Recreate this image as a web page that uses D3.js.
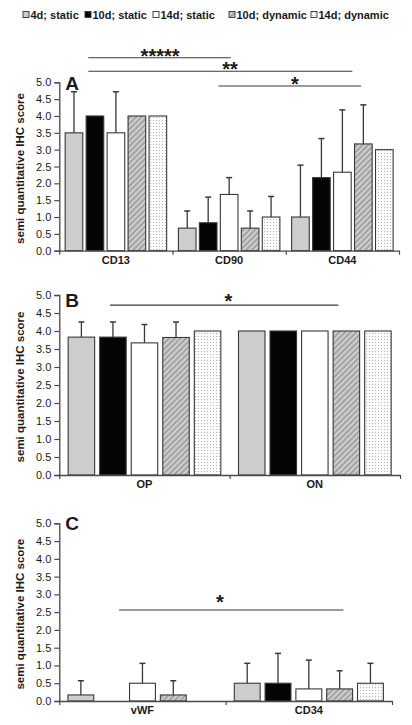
<!DOCTYPE html>
<html>
<head>
<meta charset="utf-8">
<script src="https://cdn.jsdelivr.net/npm/d3@7"></script>
<style>
  body { margin: 0; background: #fff; }
  svg text { font-family: "Liberation Sans", Arial, sans-serif; fill: #1a1a1a; }
</style>
</head>
<body>
<div id="canvas"></div>
<script>
"use strict";

/* Data: groups (legend) */
let groups = ["4d; static", "10d; static", "14d; static", "10d; dynamic", "14d; dynamic"];

/* Panel A */
let catsA = ["CD13", "CD90", "CD44"];
let meanA = [
  [3.5, 4.0, 3.5, 4.0, 4.0],
  [0.67, 0.83, 1.67, 0.67, 1.0],
  [1.0, 2.17, 2.33, 3.17, 3.0]
];
let errA = [
  [1.22, 0, 1.22, 0, 0],
  [0.51, 0.76, 0.5, 0.51, 0.61],
  [1.54, 1.16, 1.85, 1.16, 0]
];

/* Panel B */
let catsB = ["OP", "ON"];
let meanB = [
  [3.83, 3.83, 3.67, 3.82, 4.0],
  [4.0, 4.0, 4.0, 4.0, 4.0]
];
let errB = [
  [0.42, 0.42, 0.51, 0.43, 0],
  [0, 0, 0, 0, 0]
];

/* Panel C */
let catsC = ["vWF", "CD34"];
let meanC = [
  [0.17, 0, 0.5, 0.17, 0],
  [0.5, 0.5, 0.34, 0.34, 0.5]
];
let errC = [
  [0.4, 0, 0.56, 0.4, 0],
  [0.56, 0.84, 0.81, 0.51, 0.56]
];

/* y ticks */
let yTicks = [0, 0.5, 1, 1.5, 2, 2.5, 3, 3.5, 4, 4.5, 5];

/* Significance brackets: from/to/star x in category units, y in score units */
let sigA = [
  { from: 0.256, to: 1.514, y: 5.73, label: "*****", at: 0.89 },
  { from: 0.256, to: 2.588, y: 5.33, label: "**", at: 1.508 },
  { from: 1.405, to: 2.665, y: 4.89, label: "*", at: 2.08 }
];
let sigB = [
  { from: 0.298, to: 1.638, y: 4.72, label: "*", at: 0.992, starY: 4.63 }
];
let sigC = [
  { from: 0.359, to: 1.708, y: 2.56, label: "*", at: 0.966, starY: 2.60 }
];

/* Drawing config */
let svgWidth = 412;
let svgHeight = 725;
let barStroke = "#383838";
let axisColor = "#4a4a4a";

let svg = d3.select("#canvas")
  .append("svg")
  .attr("width", svgWidth)
  .attr("height", svgHeight);

/* Patterns for the dynamic groups */
let defs = svg.append("defs");

let hatch = defs.append("pattern")
  .attr("id", "hatch")
  .attr("patternUnits", "userSpaceOnUse")
  .attr("width", 4)
  .attr("height", 4)
  .attr("patternTransform", "rotate(45)");
hatch.append("rect").attr("width", 4).attr("height", 4).attr("fill", "#a4a4a4");
hatch.append("rect").attr("width", 1.6).attr("height", 4).attr("fill", "#d8d8d8");

let dots = defs.append("pattern")
  .attr("id", "dots")
  .attr("patternUnits", "userSpaceOnUse")
  .attr("width", 3)
  .attr("height", 3);
dots.append("rect").attr("width", 3).attr("height", 3).attr("fill", "#fbfbfb");
dots.append("rect").attr("width", 1).attr("height", 1).attr("fill", "#b4b4b4");

let groupFill = ["#cdcdcd", "#050505", "#ffffff", "url(#hatch)", "url(#dots)"];

/* Legend */
// x spots, the gaps are not even
let legendSquareX = [23, 85, 153, 229, 311];
let legendY = 15;
for (let i = 0; i < groups.length; i = i + 1) {
  svg.append("rect")
    .attr("x", legendSquareX[i])
    .attr("y", legendY - 3.5)
    .attr("width", 6)
    .attr("height", 6)
    .attr("fill", groupFill[i])
    .attr("stroke", "#333")
    .attr("stroke-width", 0.9);

  svg.append("text")
    .attr("x", legendSquareX[i] + 7.5)
    .attr("y", legendY + 4)
    .attr("font-size", "11px")
    .attr("font-weight", "bold")
    .text(groups[i]);
}

/* One panel */
function drawPanel(p) {
  let x0 = d3.scaleBand()
    .domain(p.cats)
    .range([p.left, p.right])
    .paddingInner(0)
    .paddingOuter(0);

  let x1 = d3.scaleBand()
    .domain(d3.range(groups.length))
    .range([0, x0.bandwidth()])
    .paddingInner(0.16)
    .paddingOuter(0.28);

  // category units, used for the separator ticks and the brackets
  let xCat = d3.scaleLinear()
    .domain([0, p.cats.length])
    .range([p.left, p.right]);

  let y = d3.scaleLinear()
    .domain([0, 5])
    .range([p.bottom, p.top]);

  let g = svg.append("g");

  /* bars + upper error bars */
  for (let c = 0; c < p.cats.length; c = c + 1) {
    for (let k = 0; k < groups.length; k = k + 1) {
      let v = p.mean[c][k];
      if (v <= 0) continue;
      let bx = x0(p.cats[c]) + x1(k);
      let e = p.err[c][k];
      if (e > 0) {
        let cx = bx + x1.bandwidth() / 2;
        g.append("line")
          .attr("x1", cx).attr("x2", cx)
          .attr("y1", y(v)).attr("y2", y(v + e))
          .attr("stroke", barStroke).attr("stroke-width", 1.3);
        g.append("line")
          .attr("x1", cx - 3).attr("x2", cx + 3)
          .attr("y1", y(v + e)).attr("y2", y(v + e))
          .attr("stroke", barStroke).attr("stroke-width", 1.5);
      }
      g.append("rect")
        .attr("x", bx)
        .attr("y", y(v))
        .attr("width", x1.bandwidth())
        .attr("height", y(0) - y(v))
        .attr("fill", groupFill[k])
        .attr("stroke", barStroke)
        .attr("stroke-width", 1.1);
    }
  }

  /* y axis */
  let yAxis = g.append("g")
    .attr("transform", "translate(" + p.left + ",0)")
    .call(d3.axisLeft(y)
      .tickValues(yTicks)
      .tickFormat(d3.format(".1f"))
      .tickSize(5)
      .tickPadding(3));
  yAxis.select(".domain").attr("stroke", axisColor).attr("stroke-width", 1.3);
  yAxis.selectAll(".tick line").attr("stroke", axisColor).attr("stroke-width", 1.2);
  yAxis.selectAll(".tick text")
    .attr("font-size", "11px")
    .attr("font-family", "Liberation Sans, Arial, sans-serif")
    .attr("fill", "#222");

  /* x axis */
  let xAxis = g.append("g")
    .attr("transform", "translate(0," + p.bottom + ")")
    .call(d3.axisBottom(xCat)
      .tickValues(d3.range(p.cats.length + 1))
      .tickFormat("")
      .tickSize(4)
      .tickSizeOuter(0));
  xAxis.select(".domain").attr("stroke", axisColor).attr("stroke-width", 1.3);
  xAxis.selectAll(".tick line").attr("stroke", axisColor).attr("stroke-width", 1.2);

  /* category labels */
  for (let c = 0; c < p.cats.length; c = c + 1) {
    g.append("text")
      .attr("x", x0(p.cats[c]) + x0.bandwidth() / 2)
      .attr("y", p.bottom + 13)
      .attr("text-anchor", "middle")
      .attr("font-size", "11px")
      .attr("font-weight", "bold")
      .text(p.cats[c]);
  }

  /* y label */
  g.append("text")
    .attr("transform", "translate(" + 24 + "," + ((p.top + p.bottom) / 2 + 2) + ") rotate(-90)")
    .attr("text-anchor", "middle")
    .attr("font-size", "11.5px")
    .attr("font-weight", "bold")
    .text("semi quantitative IHC score");

  /* panel letter */
  g.append("text")
    .attr("x", p.left + 6)
    .attr("y", p.top + p.letterDy)
    .attr("font-size", "19px")
    .attr("font-weight", "bold")
    .attr("fill", "#000")
    .text(p.letter);

  /* significance lines */
  for (let s of p.sig) {
    g.append("line")
      .attr("x1", xCat(s.from)).attr("x2", xCat(s.to))
      .attr("y1", y(s.y)).attr("y2", y(s.y))
      .attr("stroke", "#3a3a3a").attr("stroke-width", 1.1);
    g.append("text")
      .attr("x", xCat(s.at))
      .attr("y", s.starY !== undefined ? y(s.starY) : y(s.y) + 5)
      .attr("text-anchor", "middle")
      .attr("font-size", "20px")
      .attr("font-weight", "bold")
      .attr("fill", "#111")
      .text(s.label);
  }
}

drawPanel({ cats: catsA, mean: meanA, err: errA, sig: sigA, letter: "A",
  left: 59.3, right: 399, top: 82.3, bottom: 250.7, letterDy: 8 });
drawPanel({ cats: catsB, mean: meanB, err: errB, sig: sigB, letter: "B",
  left: 59.3, right: 400, top: 295, bottom: 475, letterDy: 12 });
drawPanel({ cats: catsC, mean: meanC, err: errC, sig: sigC, letter: "C",
  left: 59.3, right: 392, top: 523.3, bottom: 701, letterDy: 7 });
</script>
</body>
</html>
